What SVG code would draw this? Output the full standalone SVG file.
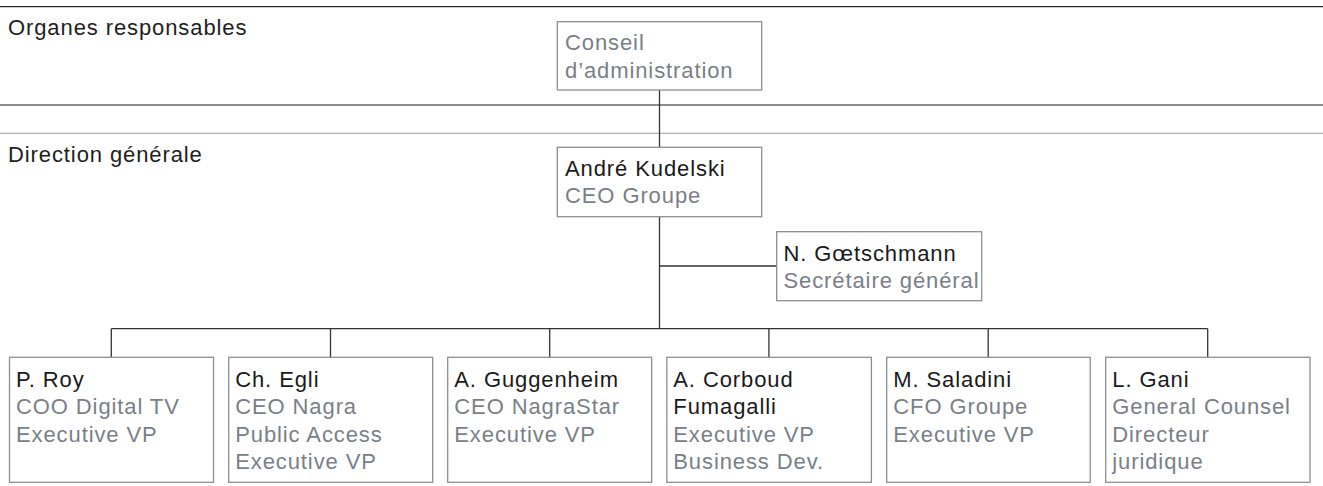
<svg xmlns="http://www.w3.org/2000/svg" width="1323" height="486" viewBox="0 0 1323 486">
<style>
text{font-family:"Liberation Sans",Arial,sans-serif;font-size:22px;letter-spacing:0.9px}
.h{fill:#1e1e1e}
.n{fill:#1a1a1a}
.r{fill:#7a7f87}
.box{fill:#fff;stroke:#8c8f94;stroke-width:1.3}
.c{fill:none;stroke:#333;stroke-width:1.3}
</style>
<rect width="1323" height="486" fill="#fff"/>
<g id="rules">
<line x1="0" y1="6.7" x2="1323" y2="6.7" stroke="#2a2a2a" stroke-width="1.3"/>
<line x1="0" y1="105" x2="1323" y2="105" stroke="#666" stroke-width="1.3"/>
<line x1="0" y1="133.3" x2="1323" y2="133.3" stroke="#9a9a9a" stroke-width="1.1"/>
<text class="h" x="8" y="35">Organes responsables</text>
<text class="h" x="8" y="161.7">Direction générale</text>
</g>
<g id="connectors">
<line class="c" x1="659.5" y1="90" x2="659.5" y2="147.3"/>
<line class="c" x1="659.5" y1="216.7" x2="659.5" y2="328.7"/>
<line class="c" x1="659.5" y1="266" x2="776.7" y2="266" stroke="#666"/>
<line class="c" x1="111.3" y1="328.7" x2="1207.7" y2="328.7" stroke="#666"/>
<line class="c" x1="111.3" y1="328.7" x2="111.3" y2="357.3"/>
<line class="c" x1="330.5" y1="328.7" x2="330.5" y2="357.3"/>
<line class="c" x1="549.7" y1="328.7" x2="549.7" y2="357.3"/>
<line class="c" x1="768.9" y1="328.7" x2="768.9" y2="357.3"/>
<line class="c" x1="988.2" y1="328.7" x2="988.2" y2="357.3"/>
<line class="c" x1="1207.7" y1="328.7" x2="1207.7" y2="357.3"/>
</g>
<g id="conseil">
<rect class="box" x="557.3" y="21.7" width="204.4" height="68.3"/>
<text class="r" x="565" y="50">Conseil</text>
<text class="r" x="565" y="77.7">d’administration</text>
</g>
<g id="kudelski">
<rect class="box" x="557.3" y="147.3" width="204.4" height="69.4"/>
<text class="n" x="565" y="176">André Kudelski</text>
<text class="r" x="565" y="203">CEO Groupe</text>
</g>
<g id="goetschmann">
<rect class="box" x="776.7" y="231.7" width="205" height="69"/>
<text class="n" x="783.5" y="261">N. Gœtschmann</text>
<text class="r" x="783.5" y="288">Secrétaire général</text>
</g>
<g id="roy">
<rect class="box" x="9.5" y="357.3" width="204" height="125"/>
<text class="n" x="16" y="386.7">P. Roy</text>
<text class="r" x="16" y="414.3">COO Digital TV</text>
<text class="r" x="16" y="442">Executive VP</text>
</g>
<g id="egli">
<rect class="box" x="228.7" y="357.3" width="204" height="125"/>
<text class="n" x="235.2" y="386.7">Ch. Egli</text>
<text class="r" x="235.2" y="414.3">CEO Nagra</text>
<text class="r" x="235.2" y="442">Public Access</text>
<text class="r" x="235.2" y="469.3">Executive VP</text>
</g>
<g id="guggenheim">
<rect class="box" x="447.7" y="357.3" width="204" height="125"/>
<text class="n" x="454.3" y="386.7">A. Guggenheim</text>
<text class="r" x="454.3" y="414.3">CEO NagraStar</text>
<text class="r" x="454.3" y="442">Executive VP</text>
</g>
<g id="corboud">
<rect class="box" x="666.8" y="357.3" width="204.6" height="125"/>
<text class="n" x="673.3" y="386.7">A. Corboud</text>
<text class="n" x="673.3" y="414.3">Fumagalli</text>
<text class="r" x="673.3" y="442">Executive VP</text>
<text class="r" x="673.3" y="469.3">Business Dev.</text>
</g>
<g id="saladini">
<rect class="box" x="886.7" y="357.3" width="203.5" height="125"/>
<text class="n" x="893.3" y="386.7">M. Saladini</text>
<text class="r" x="893.3" y="414.3">CFO Groupe</text>
<text class="r" x="893.3" y="442">Executive VP</text>
</g>
<g id="gani">
<rect class="box" x="1105.7" y="357.3" width="204.3" height="125"/>
<text class="n" x="1112.3" y="386.7">L. Gani</text>
<text class="r" x="1112.3" y="414.3">General Counsel</text>
<text class="r" x="1112.3" y="442">Directeur</text>
<text class="r" x="1112.3" y="469.3">juridique</text>
</g>
</svg>
